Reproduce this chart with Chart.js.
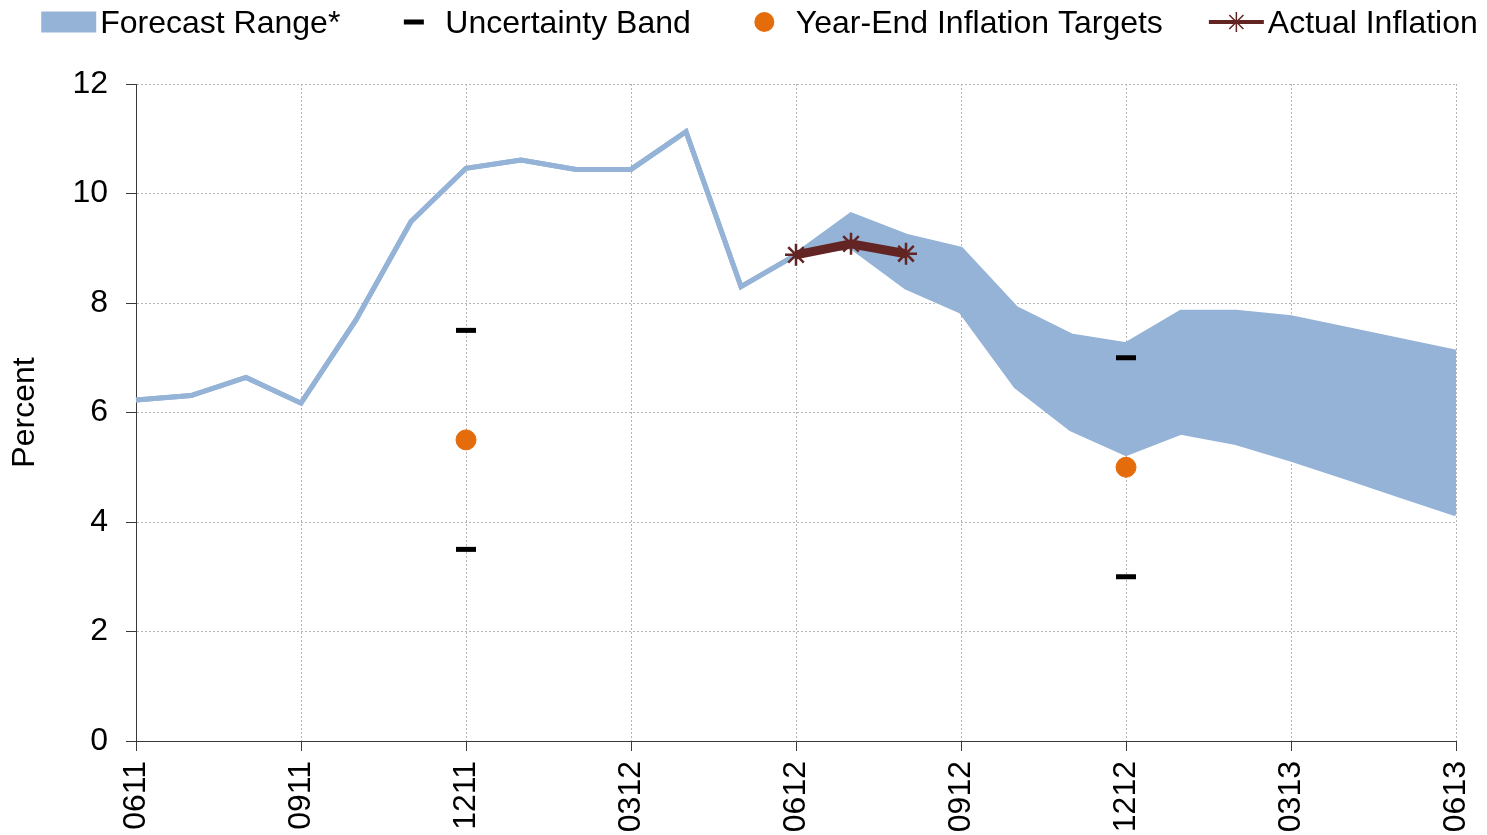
<!DOCTYPE html>
<html lang="en">
<head>
  <meta charset="UTF-8" />
  <title>Inflation Forecast</title>
  <script src="https://cdn.jsdelivr.net/npm/chart.js"></script>
  <style>
    html, body { margin: 0; padding: 0; background: #ffffff; }
    #wrap { width: 1487px; height: 835px; position: relative; }
  </style>
</head>
<body>
  <div id="wrap"><canvas id="chart"></canvas></div>

  <script>
    // monthly points, labels shown every quarter
    const months = ['0611','0711','0811','0911','1011','1111','1211','0112','0212','0312','0412','0512',
                    '0612','0712','0812','0912','1012','1112','1212','0113','0213','0313','0413','0513','0613'];

    const rangeHigh = [6.23, 6.31, 6.64, 6.17, 7.69, 9.49, 10.46, 10.61, 10.44, 10.44, 11.13, 8.30,
                       8.88, 9.61, 9.22, 8.98, 7.90, 7.40, 7.24, 7.83, 7.83, 7.73, 7.52, 7.31, 7.10];
    const rangeLow  = [6.23, 6.31, 6.64, 6.17, 7.69, 9.49, 10.46, 10.61, 10.44, 10.44, 11.13, 8.30,
                       8.88, 9.03, 8.29, 7.85, 6.48, 5.70, 5.25, 5.64, 5.45, 5.15, 4.82, 4.48, 4.15];

    const bandHigh = [null, null, null, null, null, null, 7.5, null, null, null, null, null,
                      null, null, null, null, null, null, 7.0, null, null, null, null, null, null];
    const bandLow  = [null, null, null, null, null, null, 3.5, null, null, null, null, null,
                      null, null, null, null, null, null, 3.0, null, null, null, null, null, null];
    const targets  = [null, null, null, null, null, null, 5.5, null, null, null, null, null,
                      null, null, null, null, null, null, 5.0, null, null, null, null, null, null];
    const actual   = [null, null, null, null, null, null, null, null, null, null, null, null,
                      8.88, 9.08, 8.90, null, null, null, null, null, null, null, null, null, null];

    const BLUE = '#95B3D7';
    const RED = '#632523';
    const ORANGE = '#E46C0A';
    const GRID = '#B4B4B4';
    const AXIS = '#3A3A3A';
    const FONT = '"Liberation Sans", Arial, sans-serif';

    Chart.defaults.font.family = FONT;
    Chart.defaults.color = '#000';

    function drawMark(ctx, mark, x, y) {
      ctx.save();
      if (mark === 'rect') {
        ctx.fillStyle = BLUE;
        ctx.fillRect(x - 27.5, y - 10.5, 55, 21);
      } else if (mark === 'dash') {
        ctx.strokeStyle = '#000'; ctx.lineWidth = 5;
        ctx.beginPath(); ctx.moveTo(x - 10, y); ctx.lineTo(x + 10, y); ctx.stroke();
      } else if (mark === 'dot') {
        ctx.fillStyle = ORANGE;
        ctx.beginPath(); ctx.arc(x, y, 10, 0, Math.PI * 2); ctx.fill();
      } else if (mark === 'star') {
        ctx.strokeStyle = RED; ctx.lineWidth = 4;
        ctx.beginPath(); ctx.moveTo(x - 27.5, y); ctx.lineTo(x + 27.5, y); ctx.stroke();
        ctx.lineWidth = 1.5;
        ctx.beginPath();
        for (let a = 0; a < 4; a++) {
          const r = a * Math.PI / 4;
          ctx.moveTo(x - Math.cos(r) * 10, y - Math.sin(r) * 10);
          ctx.lineTo(x + Math.cos(r) * 10, y + Math.sin(r) * 10);
        }
        ctx.stroke();
      }
      ctx.restore();
    }

    // legend drawn across the top, Excel style
    const topLegend = {
      id: 'topLegend',
      afterDraw(chart) {
        const ds = chart.data.datasets;
        const items = [[ds[4].label, 'rect'], [ds[2].label, 'dash'], [ds[1].label, 'dot'], [ds[0].label, 'star']];
        const ctx = chart.ctx;
        ctx.save();
        ctx.font = '32px ' + FONT;
        const widths = items.map(it => ctx.measureText(it[0]).width);
        const total = widths.reduce((a, b) => a + b, 0) + items.length * 59 + (items.length - 1) * 46;
        let x = 759.5 - total / 2;
        items.forEach((it, i) => {
          drawMark(ctx, it[1], x + 27.5, 22);
          ctx.fillStyle = '#000';
          ctx.textBaseline = 'alphabetic';
          ctx.fillText(it[0], x + 59, 33);
          x += 59 + widths[i] + 46;
        });
        ctx.restore();
      }
    };

    new Chart(document.getElementById('chart'), {
      type: 'line',
      data: {
        labels: months,
        datasets: [
          { label: 'Actual Inflation', data: actual, borderColor: RED, backgroundColor: RED, borderWidth: 9,
            pointStyle: 'star', pointRadius: 11, pointBorderWidth: 2.5, pointBorderColor: RED, order: 0 },
          { label: 'Year-End Inflation Targets', data: targets, showLine: false, pointStyle: 'circle',
            pointRadius: 10, pointBackgroundColor: ORANGE, pointBorderColor: ORANGE, pointBorderWidth: 1, order: 1 },
          { label: 'Uncertainty Band', data: bandHigh, showLine: false, pointStyle: 'line',
            pointRadius: 10, pointBorderWidth: 5, pointBorderColor: '#000', order: 2 },
          { label: 'Uncertainty Band (low)', data: bandLow, showLine: false, pointStyle: 'line',
            pointRadius: 10, pointBorderWidth: 5, pointBorderColor: '#000', order: 2 },
          { label: 'Forecast Range*', data: rangeHigh, borderColor: BLUE, backgroundColor: BLUE, borderWidth: 5,
            pointRadius: 0, fill: '+1', order: 3 },
          { label: 'Forecast Range* (low)', data: rangeLow, borderColor: BLUE, backgroundColor: BLUE, borderWidth: 5,
            pointRadius: 0, fill: false, order: 4 }
        ]
      },
      options: {
        responsive: true,
        maintainAspectRatio: false,
        animation: false,
        layout: { padding: { top: 84, right: 31, left: 0, bottom: 0 } },
        plugins: { legend: { display: false }, tooltip: { enabled: false } },
        scales: {
          x: {
            offset: false,
            grid: {
              color: c => c.index % 3 === 0 ? GRID : 'transparent',
              tickColor: c => c.index % 3 === 0 ? AXIS : 'transparent',
              tickLength: 10
            },
            border: { color: AXIS, dash: [2, 2] },
            ticks: {
              autoSkip: false, minRotation: 90, maxRotation: 90, padding: 10,
              font: { size: 32 },
              callback: function (v, i) { return i % 3 === 0 ? this.getLabelForValue(v) : ''; }
            },
            afterFit: s => { s.height = 94; s.paddingLeft = 0; s.paddingRight = 0; }
          },
          y: {
            min: 0, max: 12,
            grid: { color: GRID, tickColor: AXIS, tickLength: 10 },
            border: { color: AXIS, dash: [2, 2] },
            ticks: { stepSize: 2, padding: 18, font: { size: 32 } },
            title: { display: true, text: 'Percent', font: { size: 32 }, padding: { top: 6, bottom: 0 } },
            afterFit: s => { s.width = 136; }
          }
        }
      },
      plugins: [topLegend]
    });
  </script>
</body>
</html>
